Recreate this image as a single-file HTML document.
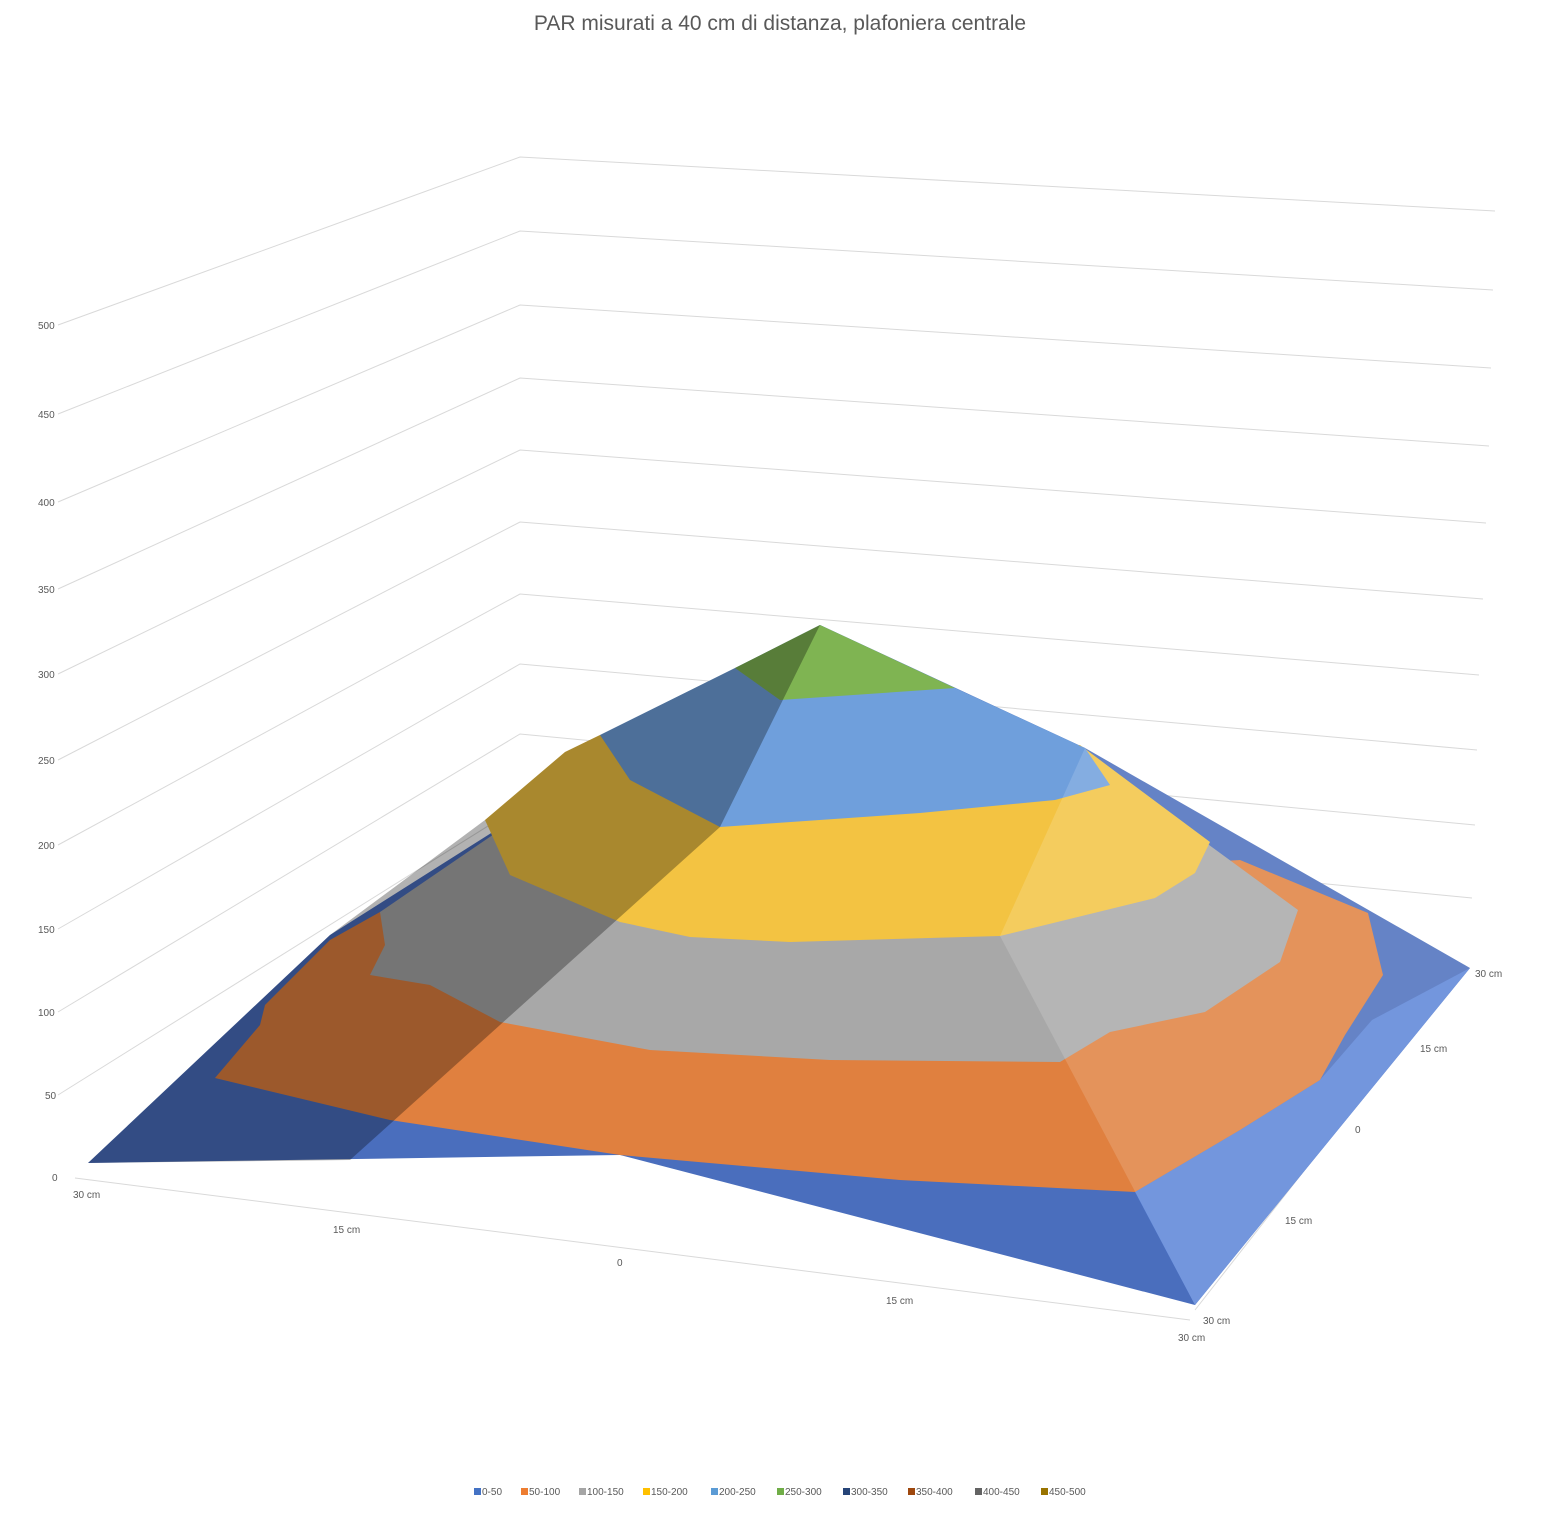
<!DOCTYPE html>
<html><head><meta charset="utf-8"><style>
body{margin:0;background:#fff;}
svg text{font-family:"Liberation Sans",sans-serif;fill:#595959;}
</style></head><body>
<svg width="1560" height="1510" viewBox="0 0 1560 1510" xmlns="http://www.w3.org/2000/svg">
<text x="780" y="30" font-size="21" text-anchor="middle">PAR misurati a 40 cm di distanza, plafoniera centrale</text>
<g stroke="#d9d9d9" stroke-width="1" fill="none">
<polyline points="58,325 520,157 1495,211"/>
<polyline points="58,414 520,231 1493,290"/>
<polyline points="58,502 520,305 1491,368"/>
<polyline points="58,589 520,378 1489,446"/>
<polyline points="58,674 520,450 1486,523"/>
<polyline points="58,760 520,522 1483,599"/>
<polyline points="58,845 520,594 1479,675"/>
<polyline points="58,929 520,664 1477,750"/>
<polyline points="58,1012 520,734 1475,825"/>
<polyline points="58,1095 520,806 1472,898"/>
<polyline points="75,1178 1190,1320"/>
<polyline points="1195,1310 1465,965"/>
</g>
<g font-size="10">
<text x="38" y="329">500</text><text x="38" y="418">450</text><text x="38" y="506">400</text>
<text x="38" y="593">350</text><text x="38" y="678">300</text><text x="38" y="764">250</text>
<text x="38" y="849">200</text><text x="38" y="933">150</text><text x="38" y="1016">100</text>
<text x="45" y="1099">50</text><text x="52" y="1181">0</text>
<text x="73" y="1198">30 cm</text><text x="333" y="1233">15 cm</text><text x="617" y="1266">0</text>
<text x="886" y="1304">15 cm</text><text x="1178" y="1341">30 cm</text>
<text x="1203" y="1324">30 cm</text><text x="1285" y="1224">15 cm</text><text x="1355" y="1133">0</text>
<text x="1420" y="1052">15 cm</text><text x="1475" y="977">30 cm</text>
</g>
<polygon fill="#4a6ebd" points="88,1163 330,935 820,625 1085,748 1470,968 1195,1305 900,1228 620,1155"/>
<polygon fill="#5b84d8" points="1135,1192 1240,1130 1320,1080 1372,1020 1470,968 1195,1305"/>
<polygon fill="#e0803f" points="215,1078 260,1025 265,1005 330,940 380,912 1240,860 1368,913 1383,975 1345,1035 1320,1080 1240,1130 1135,1192 900,1180 620,1155 390,1120"/>
<polygon fill="#a8a8a8" points="370,975 385,945 380,912 500,830 1205,842 1298,910 1280,962 1205,1012 1110,1032 1060,1062 830,1060 650,1050 500,1022 430,985"/>
<polygon fill="#f3c342" points="485,820 565,752 600,735 1080,745 1120,775 1210,842 1195,873 1155,898 1000,936 790,942 690,937 620,922 510,875"/>
<polygon fill="#6f9fdc" points="600,735 735,668 820,625 955,688 1085,748 1110,785 1055,800 920,813 720,827 630,780"/>
<polygon fill="#7fb452" points="735,668 820,625 955,688 780,700"/>
<polygon fill="#000" opacity="0.3" points="88,1163 330,935 485,820 565,752 600,735 735,668 820,625 720,827 350,1160"/>
<polygon fill="#fff" opacity="0.15" points="1000,936 1085,748 1470,968 1195,1305"/>
<g font-size="10">
<rect x="474" y="1488" width="7" height="7" fill="#4472c4"/><text x="482" y="1495">0-50</text>
<rect x="521" y="1488" width="7" height="7" fill="#ed7d31"/><text x="529" y="1495">50-100</text>
<rect x="579" y="1488" width="7" height="7" fill="#a5a5a5"/><text x="587" y="1495">100-150</text>
<rect x="643" y="1488" width="7" height="7" fill="#ffc000"/><text x="651" y="1495">150-200</text>
<rect x="711" y="1488" width="7" height="7" fill="#5b9bd5"/><text x="719" y="1495">200-250</text>
<rect x="777" y="1488" width="7" height="7" fill="#70ad47"/><text x="785" y="1495">250-300</text>
<rect x="843" y="1488" width="7" height="7" fill="#264478"/><text x="851" y="1495">300-350</text>
<rect x="908" y="1488" width="7" height="7" fill="#9e480e"/><text x="916" y="1495">350-400</text>
<rect x="975" y="1488" width="7" height="7" fill="#636363"/><text x="983" y="1495">400-450</text>
<rect x="1041" y="1488" width="7" height="7" fill="#997300"/><text x="1049" y="1495">450-500</text>
</g>
</svg>
</body></html>
